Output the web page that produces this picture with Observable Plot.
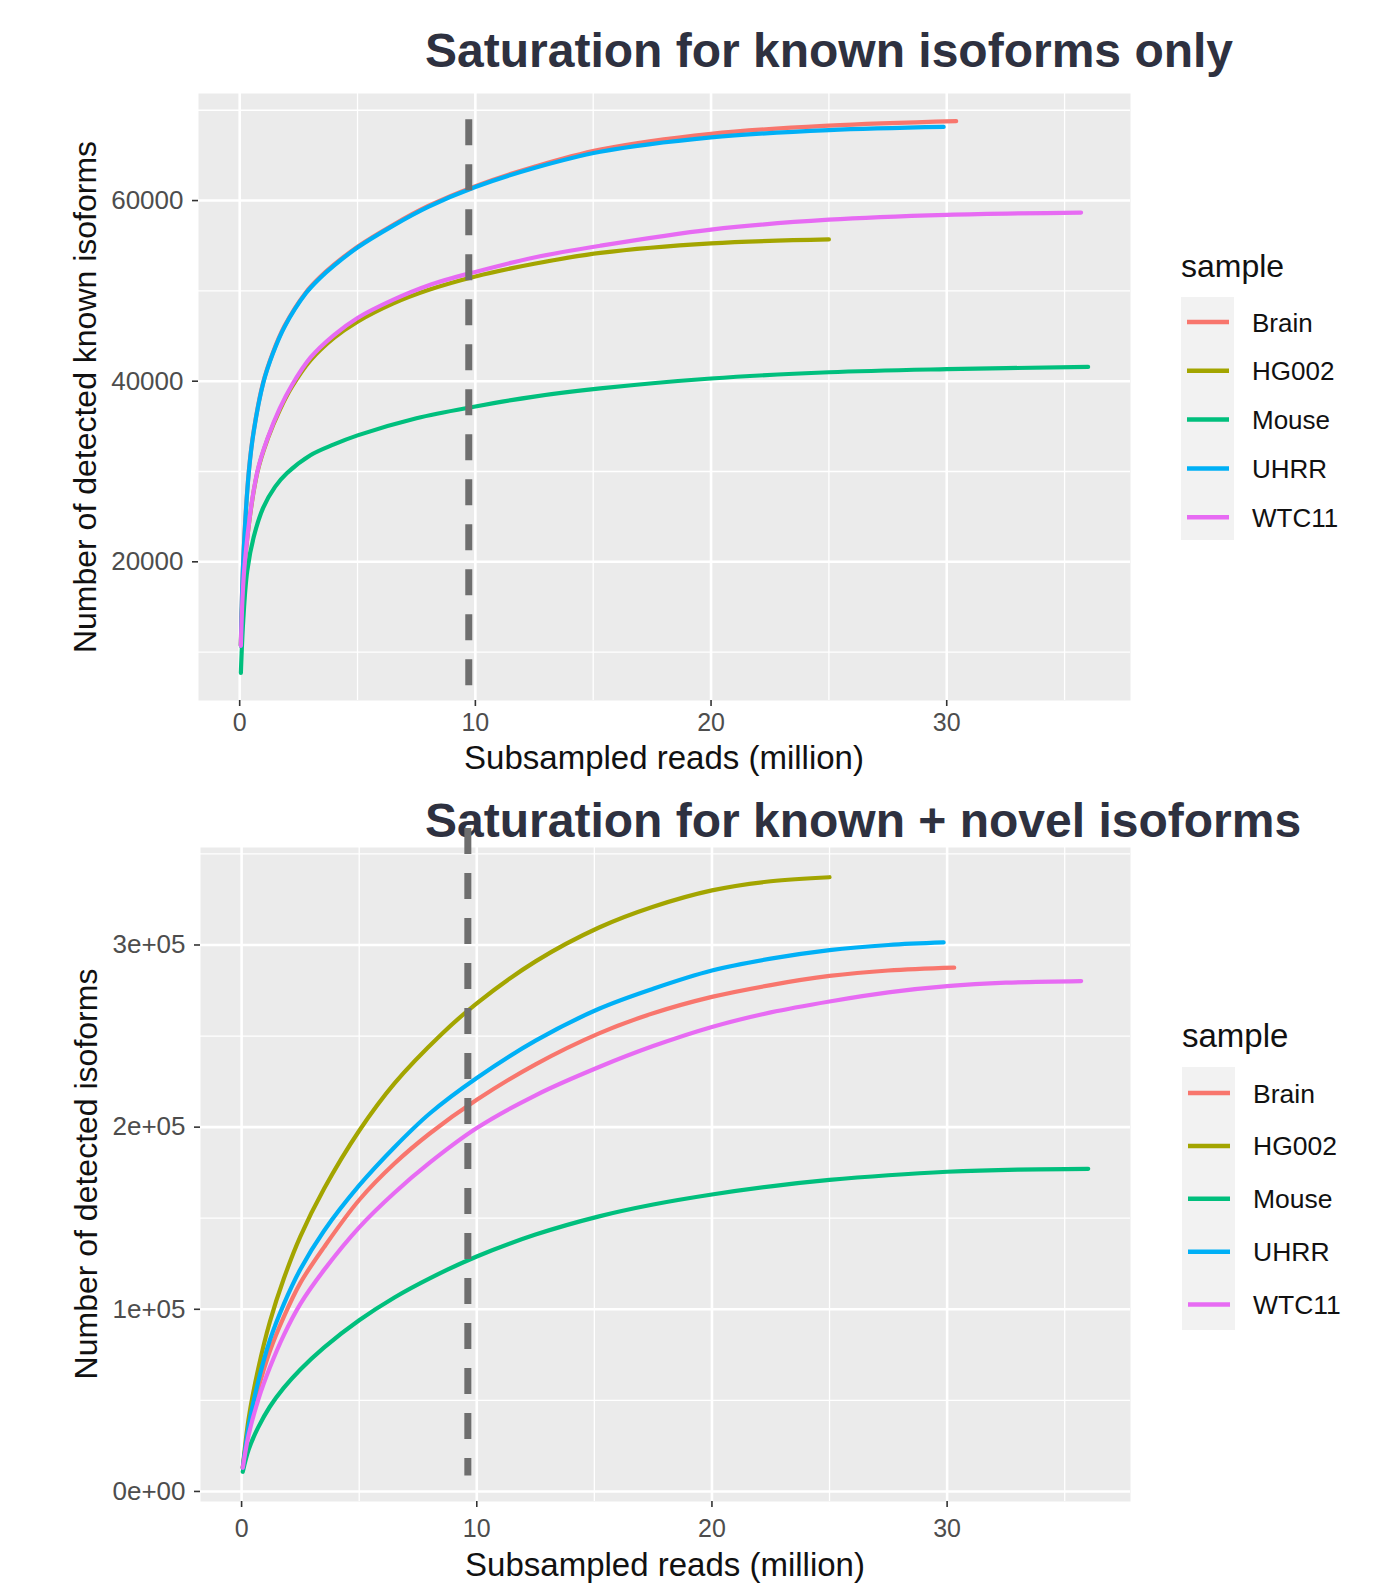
<!DOCTYPE html>
<html><head><meta charset="utf-8">
<script src="https://cdn.jsdelivr.net/npm/d3@7"></script>
<script src="https://cdn.jsdelivr.net/npm/@observablehq/plot@0.6"></script>
<style>
html,body{margin:0;padding:0;background:#fff;}
#wrap{position:relative;width:1384px;height:1590px;overflow:hidden;}
#wrap > svg{position:absolute;left:0;}
</style></head><body><div id="wrap"></div>
<script>
const FONT = "'Liberation Sans', Arial, Helvetica, sans-serif";

const samples = ["Brain", "HG002", "Mouse", "UHRR", "WTC11"];
const sampleColors = ["#F8766D", "#A3A500", "#00BF7D", "#00B0F6", "#E76BF3"];

// Panel 1: known isoforms only  [subsampled reads (million), detected isoforms]
const knownBrain = [[0.05,10800],[0.15,20100],[0.39,30100],[0.6,34600],[1.0,39900],[1.4,43100],[1.9,46100],[2.8,49800],[3.4,51500],[4,52900],[5,54900],[6.5,57300],[8,59400],[10,61600],[12.5,63750],[15.3,65650],[20,67400],[25,68300],[30.4,68800]];
const knownHG002 = [[0.05,10700],[0.22,20000],[0.75,29900],[1.2,33700],[1.7,36800],[2.2,39300],[3,42300],[4,44800],[5,46600],[6.5,48600],[8,50100],[10,51600],[12.5,53000],[15.3,54200],[20,55260],[25,55700]];
const knownMouse = [[0.05,7700],[0.15,13500],[0.32,19000],[0.6,22800],[1,26000],[1.5,28300],[2,29800],[3,31800],[4,33000],[5,34000],[7.5,35900],[10,37200],[12.5,38300],[15.3,39200],[20,40300],[25,40990],[30,41330],[36,41580]];
const knownUHRR = [[0.05,10700],[0.15,20000],[0.39,30000],[0.6,34500],[1.0,39800],[1.4,43000],[1.9,46000],[2.8,49700],[3.4,51400],[4,52800],[5,54800],[6.5,57200],[8,59300],[10,61500],[12.5,63600],[15.3,65400],[20,67000],[25,67800],[29.87,68150]];
const knownWTC11 = [[0.05,10700],[0.22,20000],[0.75,30000],[1.2,33800],[1.7,37000],[2.2,39500],[3,42600],[4,45100],[5,47000],[6.5,49000],[8,50600],[10,52100],[12.5,53700],[15.3,55000],[20,56790],[25,57880],[30,58420],[35.7,58670]];

// Panel 2: known + novel isoforms
const allBrain = [[0.05,13000],[0.3,34000],[0.7,56000],[1.2,77000],[1.8,96000],[2.5,114500],[3.5,134000],[5,160000],[6.5,180000],[8,196500],[10,215000],[12.5,234500],[15.2,251500],[17.5,262500],[20,271500],[22.5,278000],[25,283000],[27.5,286000],[30.3,287600]];
const allHG002 = [[0.05,13000],[0.3,40000],[0.7,67000],[1.2,93000],[1.8,117000],[2.5,140000],[3.5,166000],[5,198000],[6.5,224000],[8.5,251000],[10,268000],[12.5,291000],[15.2,309600],[17.5,321000],[20,330000],[22.5,335000],[25,337200]];
const allMouse = [[0.05,10800],[0.3,23000],[0.7,35000],[1.2,46500],[1.8,57000],[2.5,67000],[3.5,79000],[5,94000],[6.5,106500],[8,117000],[10,129000],[12.5,141000],[15.2,151000],[17.5,157500],[20,163000],[22.5,167500],[25,171000],[27.5,173600],[30,175500],[33,176700],[36,177100]];
const allUHRR = [[0.05,13000],[0.3,36000],[0.7,60000],[1.2,83000],[1.8,103000],[2.5,122000],[3.5,143000],[5,168000],[6.5,189000],[8,207500],[10,227000],[12.5,247500],[15.2,265000],[17.5,276000],[20,286000],[22.5,292500],[25,297200],[27.5,300000],[29.85,301400]];
const allWTC11 = [[0.05,13000],[0.3,31000],[0.7,50000],[1.2,68000],[1.8,86000],[2.5,103000],[3.5,121500],[5,145000],[6.5,164000],[8,180500],[10,199500],[12.5,217500],[15.2,233000],[17.5,244500],[20,255000],[22.5,263000],[25,269000],[27.5,274000],[30,277400],[32.5,279300],[35.7,280200]];

// Axis ticks and labels
const xMajor = [0, 10, 20, 30];
const xMinor = [5, 15, 25, 35];
const knownYMajor = [20000, 40000, 60000];
const knownYMinor = [10000, 30000, 50000, 70000];
const knownYLabels = ["20000", "40000", "60000"];
const allYMajor = [0, 100000, 200000, 300000];
const allYMinor = [50000, 150000, 250000, 350000];
const allYLabels = ["0e+00", "1e+05", "2e+05", "3e+05"];

// Dashed reference line (x, top, bottom)
const knownDash = [{x: 9.72, y1: 68950, y2: 5300}];
const allDash = [{x: 9.62, y1: 364000, y2: 8500}];

const titles = ["Saturation for known isoforms only", "Saturation for known + novel isoforms"];
const xTitle = "Subsampled reads (million)";
const yTitles = ["Number of detected known isoforms", "Number of detected isoforms"];
const legendTitle = "sample";

function rows(series) {
  const out = [];
  series.forEach((s, i) => s.forEach(([x, y]) => out.push({sample: samples[i], x, y})));
  return out;
}
function expand(vals) {
  const [a, b] = d3.extent(vals);
  const r = b - a;
  return [a - 0.05 * r, b + 0.05 * r];
}

const wrap = document.getElementById("wrap");

// Overlay (behind) with titles, axis titles, legends
const ov = d3.create("svg").attr("width", 1384).attr("height", 1590)
  .style("top", "0px").style("font-family", FONT);
wrap.appendChild(ov.node());

function panel(o) {
  const data = rows(o.series);
  const labelMap = new Map(o.yMajor.map((d, i) => [d, o.yLabels[i]]));
  const svg = Plot.plot({
    width: 1384, height: o.height,
    marginLeft: o.ml, marginRight: o.mr, marginTop: o.mt, marginBottom: o.mb,
    style: {background: "transparent", overflow: "visible", fontFamily: FONT},
    x: {domain: expand(data.map(d => d.x)), label: null},
    y: {domain: expand(data.map(d => d.y)), label: null},
    color: {domain: samples, range: sampleColors},
    marks: [
      Plot.frame({fill: "#EBEBEB", stroke: "none"}),
      Plot.gridX(xMinor, {stroke: "#ffffff", strokeOpacity: 1, strokeWidth: 1.3}),
      Plot.gridY(o.yMinor, {stroke: "#ffffff", strokeOpacity: 1, strokeWidth: 1.3}),
      Plot.gridX(xMajor, {stroke: "#ffffff", strokeOpacity: 1, strokeWidth: 2.6}),
      Plot.gridY(o.yMajor, {stroke: "#ffffff", strokeOpacity: 1, strokeWidth: 2.6}),
      Plot.line(data, {x: "x", y: "y", z: "sample", stroke: "sample", strokeWidth: 4.2, curve: "catmull-rom"}),
      Plot.ruleX(o.dash, {x: "x", y1: "y1", y2: "y2", stroke: "#6e6e6e", strokeWidth: 7, strokeDasharray: "26,19"}),
      Plot.axisX(xMajor, {tickSize: 6, tickPadding: o.tpx, fontSize: 25, fill: "#4D4D4D", stroke: "#333333", strokeWidth: 1.6, label: null}),
      Plot.axisY(o.yMajor, {tickSize: 6, tickPadding: 9, fontSize: 26, fill: "#4D4D4D", stroke: "#333333", strokeWidth: 1.6, tickFormat: d => labelMap.get(d), label: null})
    ]
  });
  svg.style.position = "absolute";
  svg.style.top = o.top + "px";
  svg.style.left = "0px";
  wrap.appendChild(svg);
}

panel({series: [knownBrain, knownHG002, knownMouse, knownUHRR, knownWTC11],
  yMajor: knownYMajor, yMinor: knownYMinor, yLabels: knownYLabels, dash: knownDash,
  top: 0, height: 780, mt: 93, mb: 80, ml: 198, mr: 254, tpx: 7});
panel({series: [allBrain, allHG002, allMouse, allUHRR, allWTC11],
  yMajor: allYMajor, yMinor: allYMinor, yLabels: allYLabels, dash: allDash,
  top: 780, height: 810, mt: 67, mb: 89, ml: 200, mr: 254, tpx: 12});

// Titles
const titleY = [67, 837];
titles.forEach((t, i) => ov.append("text").attr("x", 425).attr("y", titleY[i])
  .attr("font-size", 48).attr("font-weight", "bold").attr("fill", "#2e3140").text(t));
// Axis titles
[[664, 769], [665, 1576]].forEach(([x, y]) => ov.append("text").attr("x", x).attr("y", y)
  .attr("text-anchor", "middle").attr("font-size", 33).attr("fill", "#111").text(xTitle));
[[96, 397], [97, 1174]].forEach(([x, y], i) => ov.append("text")
  .attr("transform", `translate(${x},${y}) rotate(-90)`)
  .attr("text-anchor", "middle").attr("font-size", 32).attr("fill", "#111").text(yTitles[i]));

// Legends
function legend(lx, titleBase, boxTop, boxH, key0, step, fs, tfs) {
  ov.append("text").attr("x", lx).attr("y", titleBase).attr("font-size", tfs).attr("fill", "#111").text(legendTitle);
  ov.append("rect").attr("x", lx).attr("y", boxTop).attr("width", 53).attr("height", boxH).attr("fill", "#F2F2F2");
  samples.forEach((s, i) => {
    const ky = key0 + step * i;
    ov.append("line").attr("x1", lx + 6).attr("x2", lx + 48).attr("y1", ky).attr("y2", ky)
      .attr("stroke", sampleColors[i]).attr("stroke-width", 4.5);
    ov.append("text").attr("x", lx + 71).attr("y", ky + 9.5).attr("font-size", fs).attr("fill", "#111").text(s);
  });
}
legend(1181, 277, 297, 243, 322, 48.8, 26, 32);
legend(1182, 1047, 1067, 263, 1093, 52.9, 26.5, 33);
</script></body></html>
